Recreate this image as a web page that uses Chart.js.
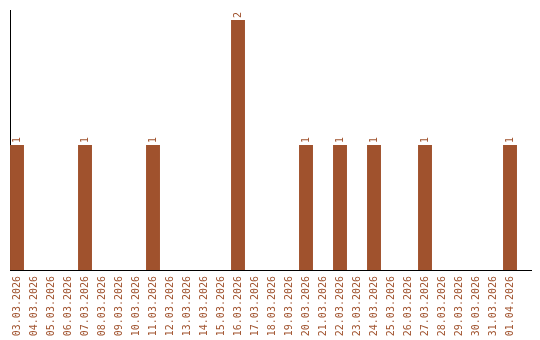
<!DOCTYPE html>
<html>
<head>
<meta charset="utf-8">
<script src="https://cdn.jsdelivr.net/npm/chart.js@4/dist/chart.umd.min.js"></script>
<style>
  html, body { margin: 0; padding: 0; background: #fff; }
  #wrap { width: 540px; height: 340px; }
</style>
</head>
<body>
<div id="wrap"><canvas id="chart"></canvas></div>
<script>
// dnevi in stevilo vnosov
const dayLabels = [
  '03.03.2026', '04.03.2026', '05.03.2026', '06.03.2026', '07.03.2026',
  '08.03.2026', '09.03.2026', '10.03.2026', '11.03.2026', '12.03.2026',
  '13.03.2026', '14.03.2026', '15.03.2026', '16.03.2026', '17.03.2026',
  '18.03.2026', '19.03.2026', '20.03.2026', '21.03.2026', '22.03.2026',
  '23.03.2026', '24.03.2026', '25.03.2026', '26.03.2026', '27.03.2026',
  '28.03.2026', '29.03.2026', '30.03.2026', '31.03.2026', '01.04.2026'
];
const dayCounts = [
  1, 0, 0, 0, 1,
  0, 0, 0, 1, 0,
  0, 0, 0, 2, 0,
  0, 0, 1, 0, 1,
  0, 1, 0, 0, 1,
  0, 0, 0, 0, 1
];

const brown = '#A0522D';
const monoFont = { family: 'DejaVu Sans Mono', size: 10 };

// stevilke nad stolpci (navpicno)
const valueLabels = {
  id: 'valueLabels',
  afterDatasetsDraw(chart) {
    const ctx = chart.ctx;
    const meta = chart.getDatasetMeta(0);
    ctx.save();
    ctx.fillStyle = brown;
    ctx.font = '10px "DejaVu Sans Mono"';
    ctx.textAlign = 'left';
    ctx.textBaseline = 'middle';
    meta.data.forEach((bar, i) => {
      if (!dayCounts[i]) return;
      ctx.save();
      ctx.translate(bar.x, bar.y - 2);
      ctx.rotate(-Math.PI / 2);
      ctx.fillText(String(dayCounts[i]), 0, 0);
      ctx.restore();
    });
    ctx.restore();
  }
};

new Chart(document.getElementById('chart'), {
  type: 'bar',
  data: {
    datasets: [{
      data: dayCounts.map((v, i) => ({ x: i, y: v })),
      backgroundColor: brown,
      borderWidth: 0,
      categoryPercentage: 1,
      barPercentage: 0.82
    }]
  },
  options: {
    responsive: true,
    maintainAspectRatio: false,
    animation: false,
    layout: { padding: { left: 10, right: 9, top: 10, bottom: 0 } },
    plugins: {
      legend: { display: false },
      tooltip: { enabled: false }
    },
    scales: {
      x: {
        type: 'linear',
        offset: false,
        min: -0.412,
        max: 30.235,
        grid: { display: false, drawTicks: false },
        border: { display: true, color: '#000', width: 1 },
        afterFit: (scale) => {
          scale.paddingLeft = 0;
          scale.paddingRight = 0;
          scale.height = 70;
        },
        ticks: {
          stepSize: 1,
          includeBounds: false,
          autoSkip: false,
          minRotation: 90,
          maxRotation: 90,
          padding: 6,
          color: brown,
          font: monoFont,
          callback: (value) => Number.isInteger(value) && dayLabels[value] ? dayLabels[value] : ''
        }
      },
      y: {
        min: 0,
        max: 2.08,
        grid: { display: false, drawTicks: false },
        border: { display: true, color: '#000', width: 1 },
        ticks: { display: false }
      }
    }
  },
  plugins: [valueLabels]
});
</script>
</body>
</html>
